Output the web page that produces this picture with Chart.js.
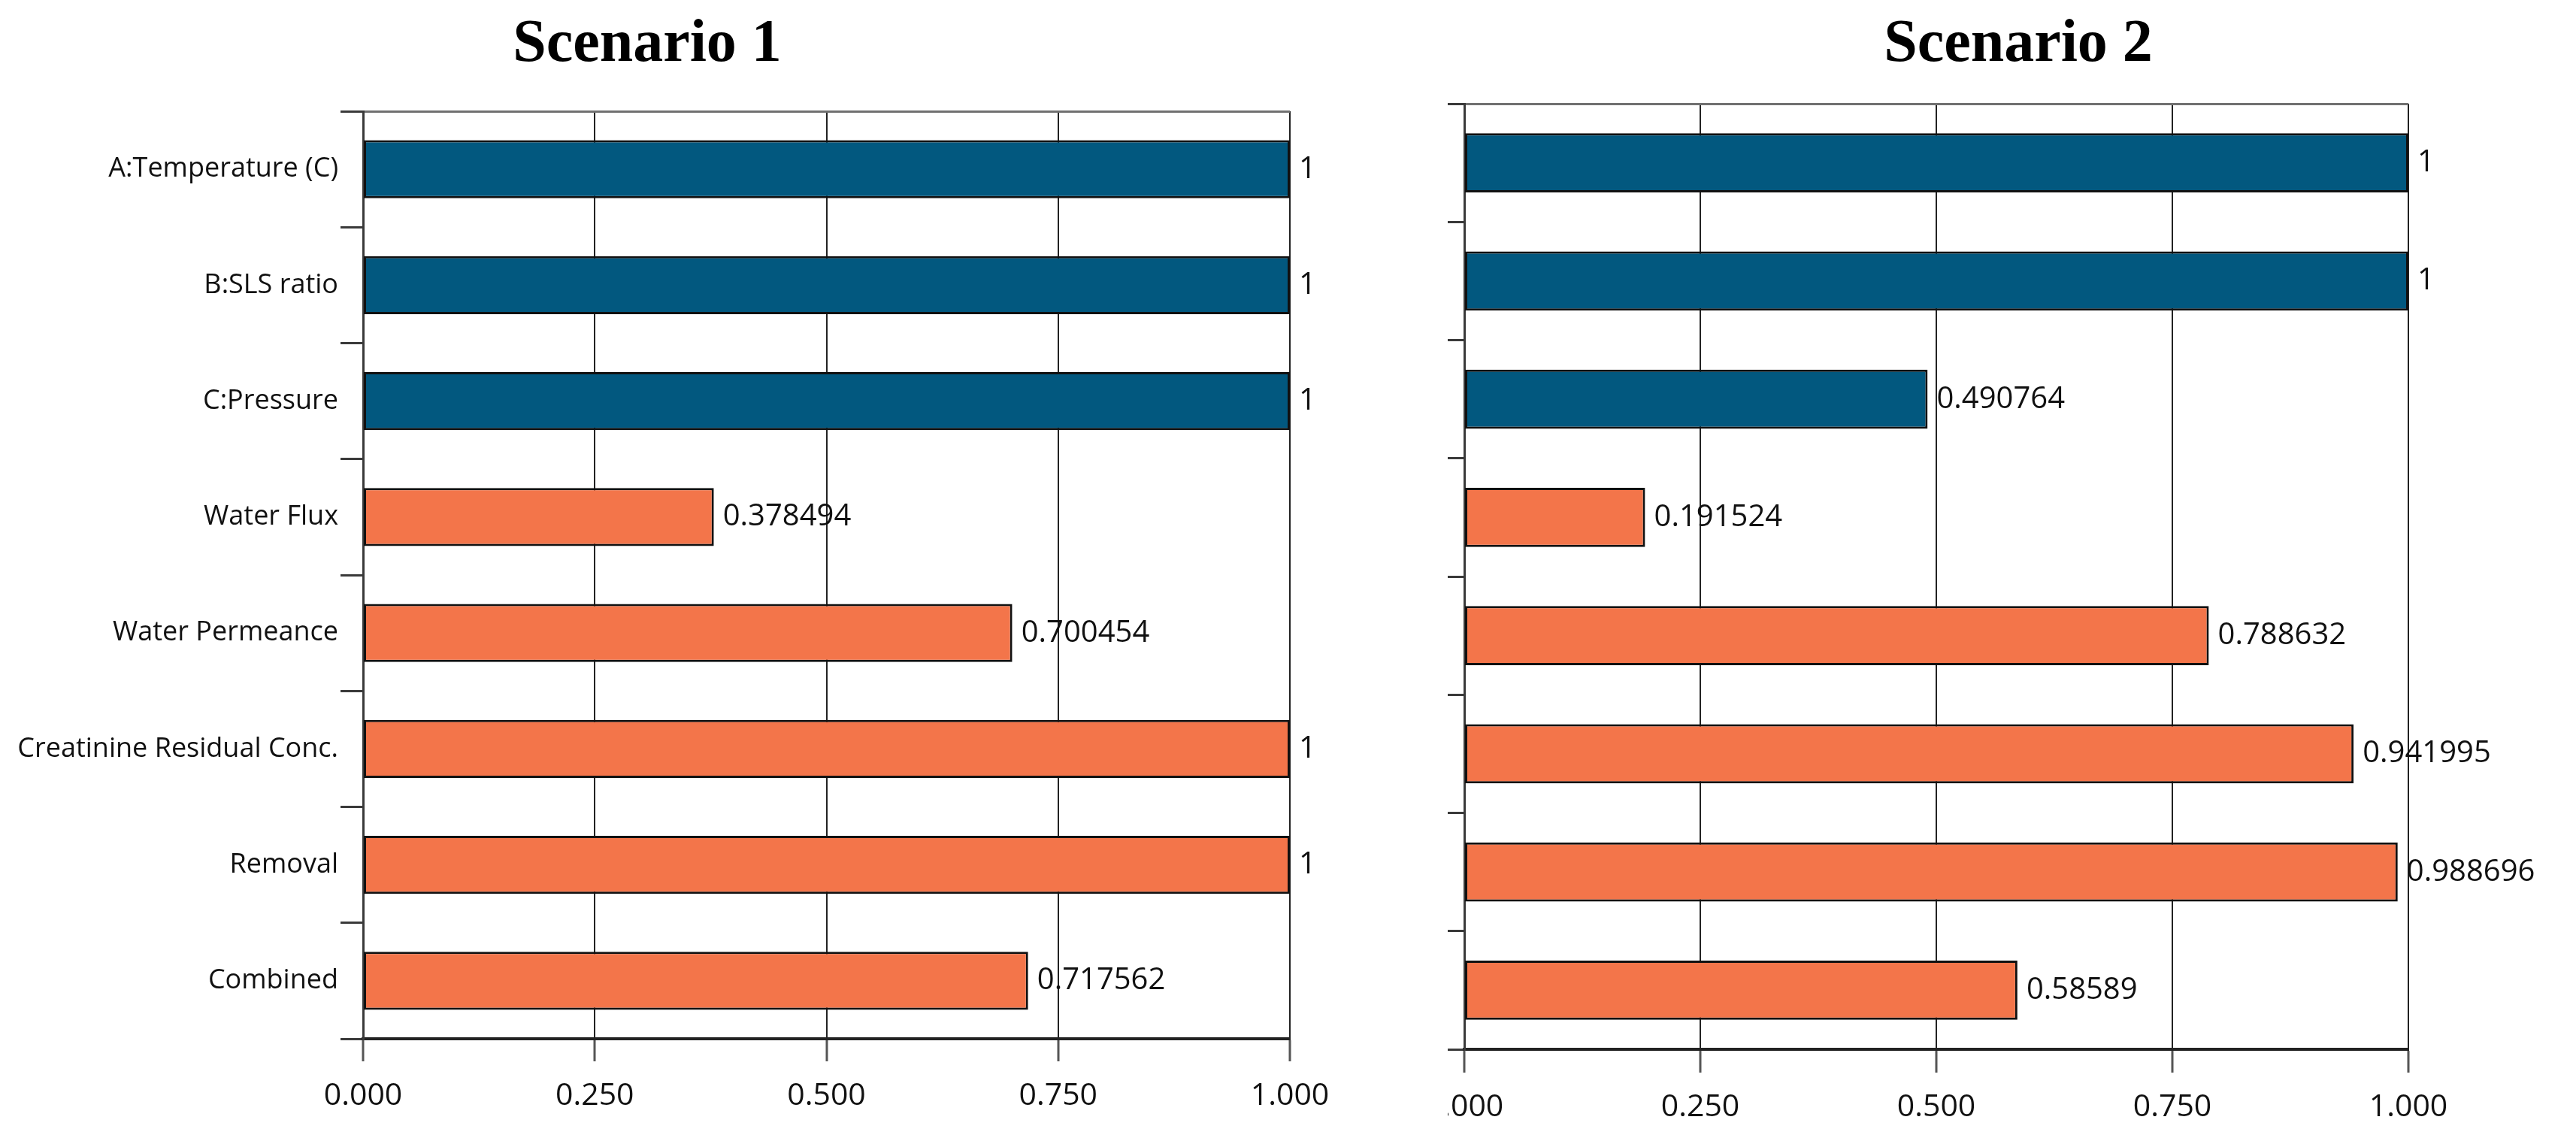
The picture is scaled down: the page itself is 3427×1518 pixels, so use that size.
<!DOCTYPE html>
<html>
<head>
<meta charset="utf-8">
<script src="https://cdn.jsdelivr.net/npm/chart.js@4.4.1/dist/chart.umd.min.js"></script>
<style>
  body { margin: 0; background: #fff; width: 3427px; height: 1518px; overflow: hidden; position: relative; }
  #left { position: absolute; left: 0; top: 0; width: 1800px; height: 1518px; }
  #rightClip { position: absolute; left: 1926px; top: 0; width: 1501px; height: 1518px; overflow: hidden; }
  #right { position: absolute; left: -78px; top: 0; width: 1674px; height: 1518px; }
</style>
</head>
<body>
<div id="left"><canvas id="chart1"></canvas></div>
<div id="rightClip"><div id="right"><canvas id="chart2"></canvas></div></div>
<script>
// desirability per factor / response
const categories = ['A:Temperature (C)', 'B:SLS ratio', 'C:Pressure', 'Water Flux', 'Water Permeance', 'Creatinine Residual Conc.', 'Removal', 'Combined'];
const scenario1 = [1, 1, 1, 0.378494, 0.700454, 1, 1, 0.717562];
const scenario2 = [1, 1, 0.490764, 0.191524, 0.788632, 0.941995, 0.988696, 0.58589];
const xTicks = [0, 0.25, 0.5, 0.75, 1];
const factorCount = 3; // first rows are factors (blue), rest are responses (orange)

const BLUE = '#02587f';
const ORANGE = '#f3754a';
const FONT = 'Open Sans';

var barColors = categories.map((c, i) => i < factorCount ? BLUE : ORANGE);

const valueLabels = {
    id: 'valueLabels',
    afterDatasetsDraw(chart) {
        const ctx = chart.ctx;
        const meta = chart.getDatasetMeta(0);
        const vals = chart.data.datasets[0].data;
        ctx.save();
        ctx.font = '40px "' + FONT + '"';
        ctx.fillStyle = '#111';
        ctx.textBaseline = 'middle';
        ctx.textAlign = 'left';
        meta.data.forEach((bar, i) => {
            ctx.fillText(String(vals[i]), bar.x + 12, bar.y);
        });
        ctx.restore();
    }
};

function makeChart(id, title, values, cfg) {
    const scales = {
        x: {
            type: 'linear',
            min: 0,
            max: 1,
            afterBuildTicks: s => { s.ticks = xTicks.map(v => ({ value: v })); },
            afterFit: s => { s.height = cfg.xHeight; },
            ticks: {
                callback: v => Number(v).toFixed(3),
                font: { family: FONT, size: 41 },
                color: '#111',
                padding: 22,
                maxRotation: 0,
                autoSkip: false
            },
            grid: { color: '#222', lineWidth: 2, tickLength: cfg.tick, tickColor: '#555', tickWidth: 3 },
            border: { display: true, color: '#222', width: 4 }
        },
        y: {
            type: 'category',
            offset: true,
            afterFit: s => { s.width = cfg.yWidth; },
            ticks: {
                display: cfg.showLabels,
                font: { family: FONT, size: 36 },
                color: '#111',
                padding: 3
            },
            grid: {
                offset: true,
                drawOnChartArea: true,
                color: ctx => ctx.index === 0 ? '#707070' : 'rgba(0,0,0,0)',
                lineWidth: 3,
                tickLength: cfg.tick,
                tickColor: '#3a3a3a',
                tickWidth: 3
            },
            border: { display: true, color: '#3a3a3a', width: 3 }
        }
    };
    if (cfg.rightSpace) {
        // empty right-hand axis: keeps room for the value labels
        scales.yPad = {
            type: 'category',
            position: 'right',
            display: true,
            afterFit: s => { s.width = cfg.rightSpace; },
            ticks: { display: false },
            grid: { display: false },
            border: { display: false }
        };
    }
    return new Chart(document.getElementById(id), {
        type: 'bar',
        data: {
            labels: categories,
            datasets: [{
                data: values,
                backgroundColor: barColors,
                borderColor: '#111',
                borderWidth: 3,
                borderSkipped: false,
                barPercentage: 0.5,
                categoryPercentage: 1
            }]
        },
        options: {
            indexAxis: 'y',
            responsive: true,
            maintainAspectRatio: false,
            animation: false,
            devicePixelRatio: 1,
            layout: { padding: cfg.padding },
            plugins: {
                legend: { display: false },
                tooltip: { enabled: false },
                title: {
                    display: true,
                    text: title,
                    color: '#000',
                    font: { family: 'Liberation Serif', weight: 'bold', size: 80 },
                    padding: { top: 9, bottom: cfg.titleGap }
                }
            },
            scales: scales
        },
        plugins: [valueLabels]
    });
}

makeChart('chart1', 'Scenario 1', scenario1, {
    padding: { left: 6, right: 84, top: 3, bottom: 0 },
    yWidth: 477, xHeight: 136, tick: 30, titleGap: 40, showLabels: true
});

makeChart('chart2', 'Scenario 2', scenario2, {
    padding: { left: 0, right: 0, top: 3, bottom: 0 },
    yWidth: 100, xHeight: 122, tick: 31, titleGap: 30, showLabels: false, rightSpace: 318
});
</script>
</body>
</html>
